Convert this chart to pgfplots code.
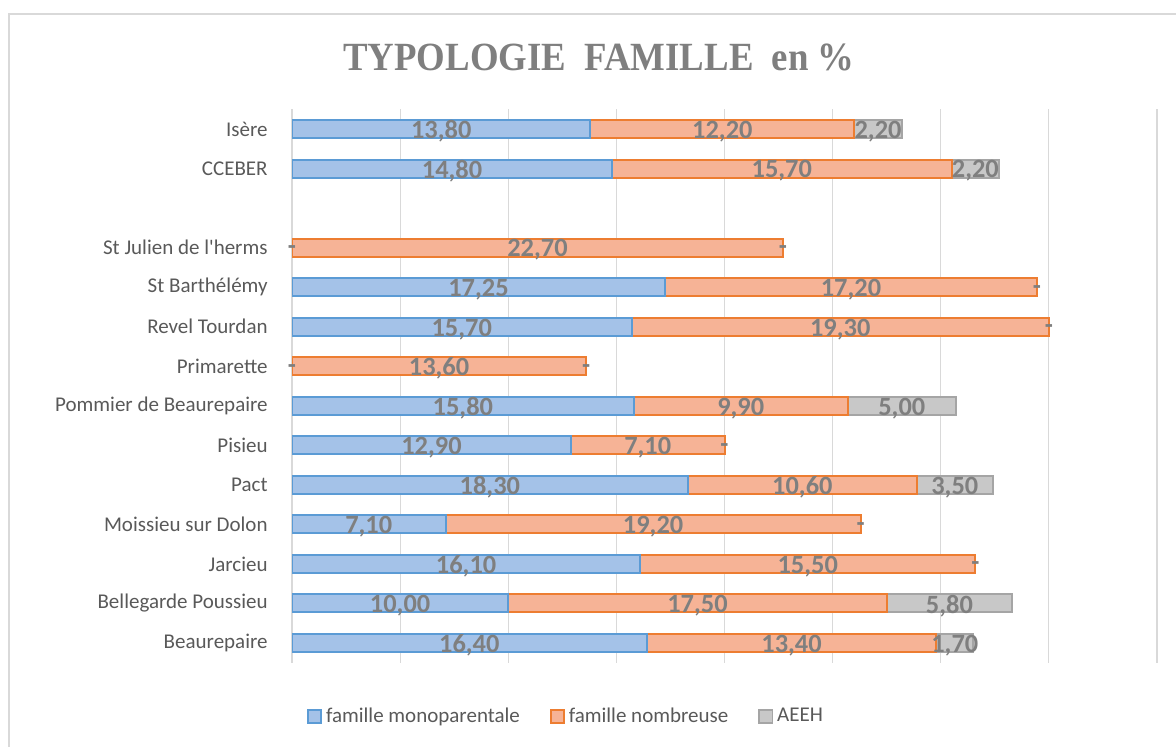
\documentclass[border=0pt]{standalone}
\usepackage{pgfplots}
\pgfplotsset{compat=1.18}
\usepackage{pgfplotstable}
\usepackage{fontspec}
\setmainfont{Carlito}[Ligatures=TeXOff]
\newfontfamily\titlefont{Liberation Serif}
\definecolor{bluefill}{HTML}{A4C2E8}
\definecolor{blueline}{HTML}{5B9BD5}
\definecolor{orfill}{HTML}{F6B396}
\definecolor{orline}{HTML}{ED7D31}
\definecolor{grfill}{HTML}{C8C8C8}
\definecolor{grline}{HTML}{A5A5A5}
\definecolor{txtgray}{HTML}{595959}
\definecolor{lblgray}{HTML}{7F7F7F}
\definecolor{gridgray}{HTML}{D9D9D9}

\pgfplotstableread{
y m n a ml nl al
0 16.40 13.40 1.70 16,40 13,40 1,70
1 10.00 17.50 5.80 10,00 17,50 5,80
2 16.10 15.50 0 16,10 15,50 -
3 7.10 19.20 0 7,10 19,20 -
4 18.30 10.60 3.50 18,30 10,60 3,50
5 12.90 7.10 0 12,90 7,10 -
6 15.80 9.90 5.00 15,80 9,90 5,00
7 0 13.60 0 - 13,60 -
8 15.70 19.30 0 15,70 19,30 -
9 17.25 17.20 0 17,25 17,20 -
10 0 22.70 0 - 22,70 -
12 14.80 15.70 2.20 14,80 15,70 2,20
13 13.80 12.20 2.20 13,80 12,20 2,20
}\data

\pgfplotsset{
  base/.style={
    at={(146pt,42.1pt)}, anchor=south west,
    scale only axis, width=432.5pt, height=276.75pt,
    xmin=0, xmax=40, ymin=-0.5, ymax=13.5,
    axis line style={draw=none},
    major tick length=0pt,
  }
}

\begin{document}
\begin{tikzpicture}[x=0.5pt,y=0.5pt]
\path[use as bounding box] (0,0) rectangle (1176,747);
\draw[gridgray, line width=1.2pt] (9,-10) -- (9,733) -- (1190,733);
\node[font=\titlefont\bfseries\fontsize{20}{24}\selectfont, text=lblgray, xscale=0.92] at (599,690) {TYPOLOGIE\ \ FAMILLE\ \ en \%};

\begin{axis}[base,
  xbar stacked, bar width=9pt,
  xtick={0,5,...,40}, xticklabels={},
  xmajorgrids, grid style={gridgray, line width=0.6pt},
  ytick={0,1,2,3,4,5,6,7,8,9,10,12,13},
  yticklabels={Beaurepaire, Bellegarde Poussieu, Jarcieu, Moissieu sur Dolon, Pact, Pisieu, Pommier de Beaurepaire, Primarette, Revel Tourdan, St Barth\'el\'emy, St Julien de l'herms, CCEBER, Is\`ere},
  yticklabel style={font=\fontsize{10.5}{12}\selectfont, text=txtgray, inner sep=0pt, xshift=-12pt},
  legend style={at={(0.318,-0.097)}, anchor=center, draw=none, fill=none,
    font=\fontsize{10.5}{12}\selectfont, text=txtgray,
    /tikz/every even column/.append style={column sep=13pt}},
  legend columns=3,
  legend image code/.code={\draw[#1, line width=0.8pt] (0pt,-3.3pt) rectangle (6.6pt,3.3pt);},
]
\addplot[fill=bluefill, draw=blueline, line width=1pt] table[x=m,y=y] {\data};
\addplot[fill=orfill, draw=orline, line width=1pt] table[x=n,y=y] {\data};
\addplot[fill=grfill, draw=grline, line width=1pt] table[x=a,y=y] {\data};
\legend{famille monoparentale, famille nombreuse, AEEH}
\end{axis}

\begin{axis}[base, hide axis,
  every node near coord/.append style={anchor=center, text=lblgray, yshift=-1.2pt,
    font=\bfseries\fontsize{13.2}{15}\selectfont},
]
\addplot[draw=none, mark=none, nodes near coords, point meta=explicit symbolic]
  table[x expr=\thisrow{m}/2, y=y, meta=ml] {\data};
\addplot[draw=none, mark=none, nodes near coords, point meta=explicit symbolic]
  table[x expr=\thisrow{m}+\thisrow{n}/2, y=y, meta=nl] {\data};
\addplot[draw=none, mark=none, nodes near coords, point meta=explicit symbolic]
  table[x expr=\thisrow{m}+\thisrow{n}+\thisrow{a}/2, y=y, meta=al] {\data};
\end{axis}
\end{tikzpicture}
\end{document}
